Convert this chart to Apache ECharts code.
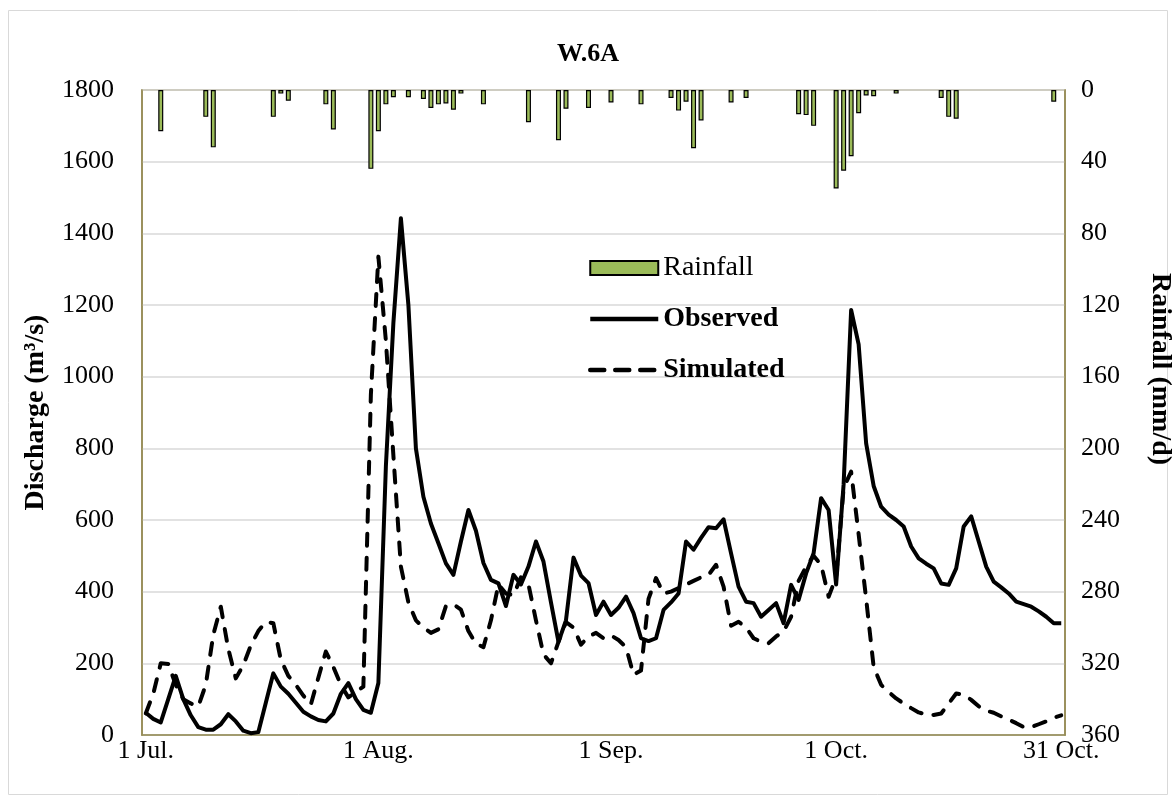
<!DOCTYPE html>
<html>
<head>
<meta charset="utf-8">
<title>W.6A</title>
<script src="https://cdn.jsdelivr.net/npm/echarts@6/dist/echarts.min.js"></script>
<style>
  html, body { margin: 0; padding: 0; background: #fff; }
  #chart { width: 1176px; height: 804px; }
</style>
</head>
<body>
<div id="chart"></div>
<script>
// x axis: daily, 1 Jul. to 31 Oct.
const months = [['Jul.', 31], ['Aug.', 31], ['Sep.', 30], ['Oct.', 31]];
const tickLabels = ['1 Jul.', '1 Aug.', '1 Sep.', '1 Oct.', '31 Oct.'];

// discharge (m3/s), one value per day
const observed = [
  62, 45, 35, 100, 165, 100, 55, 22, 15, 15,
  30, 58, 38, 12, 5, 8, 90, 172, 135, 115,
  90, 65, 52, 42, 38, 60, 115, 145, 100, 70,
  62, 145, 750, 1150, 1442, 1200, 800, 665, 590, 535,
  479, 447, 540, 628, 570, 480, 433, 423, 360, 447,
  420, 470, 540, 484, 370, 260, 320, 495, 445, 424,
  335, 372, 335, 355, 386, 340, 270, 262, 270, 349,
  370, 395, 540, 517, 550, 580, 577, 602, 507, 414,
  372, 368, 330, 349, 368, 312, 419, 377, 451, 507,
  661, 628, 420, 700, 1186, 1090, 814, 695, 637, 615,
  600, 582, 526, 493, 478, 465, 423, 419, 465, 582,
  610, 540, 470, 428, 412, 395, 372, 365, 358, 345,
  330, 312, 312
];

const simulated = [
  60, 115, 200, 198, 140, 100, 88, 80, 140, 280,
  358, 240, 158, 195, 250, 290, 316, 312, 210, 165,
  140, 110, 85, 160, 233, 190, 140, 105, 120, 135,
  950, 1335, 1100, 780, 470, 370, 320, 300, 285, 295,
  360, 365, 350, 290, 255, 245, 320, 420, 395, 390,
  440, 420, 320, 225, 200, 260, 315, 300, 252, 275,
  285, 270, 278, 265, 245, 168, 180, 380, 438, 395,
  400, 410, 420, 430, 440, 447, 475, 414, 305, 316,
  300, 270, 260, 256, 275, 289, 330, 430, 470, 500,
  475, 386, 440, 690, 735, 560, 380, 190, 140, 120,
  102, 88, 75, 63, 57, 56, 60, 88, 116, 112,
  98, 80, 68, 62, 52, 43, 33, 22, 22, 30,
  38, 48, 55
];

// rainfall (mm/d)
const rainfall = [
  0, 0, 23, 0, 0, 0, 0, 0, 15, 32,
  0, 0, 0, 0, 0, 0, 0, 15, 2, 6,
  0, 0, 0, 0, 8, 22, 0, 0, 0, 0,
  44, 23, 8, 4, 0, 4, 0, 5, 10, 8,
  7.5, 11, 2, 0, 0, 8, 0, 0, 0, 0,
  0, 18, 0, 0, 0, 28, 10.5, 0, 0, 10,
  0, 0, 7, 0, 0, 0, 8, 0, 0, 0,
  4.5, 11.5, 6.5, 32.5, 17, 0, 0, 0, 7, 0,
  4.5, 0, 0, 0, 0, 0, 0, 13.5, 14, 20,
  0, 0, 55, 45, 37, 13, 3, 3.5, 0, 0,
  2, 0, 0, 0, 0, 0, 4.5, 15, 16, 0,
  0, 0, 0, 0, 0, 0, 0, 0, 0, 0,
  0, 6.5, 0
];

const days = [];
months.forEach(function (m) {
  for (let d = 1; d <= m[1]; d++) days.push(d + ' ' + m[0]);
});

const FONT = '"Liberation Serif", "Times New Roman", serif';
const OLIVE = '#948A54';
const DASH = [12, 12];

const chart = echarts.init(document.getElementById('chart'));

const option = {
  animation: false,
  textStyle: { fontFamily: FONT, color: '#000' },
  title: {
    text: 'W.6A',
    left: 'center',
    top: 36,
    textStyle: { fontFamily: FONT, fontSize: 26, fontWeight: 'bold', color: '#000' }
  },
  legend: {
    orient: 'vertical',
    left: 583,
    top: 249,
    itemWidth: 68,
    itemHeight: 14,
    itemGap: 23,
    textStyle: { fontFamily: FONT, fontSize: 28, color: '#000' },
    data: [
      { name: 'Rainfall', icon: 'rect', textStyle: { fontWeight: 'normal' } },
      {
        name: 'Observed',
        itemStyle: { opacity: 0 },
        lineStyle: { width: 4.5, color: '#000', type: 'solid' },
        textStyle: { fontWeight: 'bold' }
      },
      {
        name: 'Simulated',
        itemStyle: { opacity: 0 },
        lineStyle: { width: 4.5, color: '#000', type: [14, 11], cap: 'round' },
        textStyle: { fontWeight: 'bold' }
      }
    ]
  },
  grid: {
    left: 142,
    right: 111,
    top: 90,
    bottom: 69,
    show: true,
    borderColor: OLIVE,
    borderWidth: 1.5
  },
  xAxis: {
    type: 'category',
    data: days,
    boundaryGap: true,
    axisLine: { lineStyle: { color: OLIVE, width: 1.5 } },
    axisTick: { show: false },
    axisLabel: {
      interval: function (i, v) { return tickLabels.indexOf(v) >= 0; },
      margin: 3,
      fontFamily: FONT,
      fontSize: 26,
      color: '#000'
    }
  },
  yAxis: [
    {
      type: 'value',
      min: 0,
      max: 1800,
      interval: 200,
      name: 'Discharge (m³/s)',
      nameLocation: 'middle',
      nameGap: 92,
      nameTextStyle: { fontFamily: FONT, fontSize: 28, fontWeight: 'bold', color: '#000' },
      axisLine: { show: true, lineStyle: { color: OLIVE, width: 1.5 } },
      axisTick: { show: false },
      axisLabel: {
        margin: 28,
        fontFamily: FONT,
        fontSize: 26,
        color: '#000',
        formatter: function (v) { return String(v); }
      },
      splitLine: { lineStyle: { color: '#D9D9D9', width: 1.5 } }
    },
    {
      type: 'value',
      inverse: true,
      min: 0,
      max: 360,
      interval: 40,
      position: 'right',
      axisLine: { show: true, lineStyle: { color: OLIVE, width: 1.5 } },
      axisTick: { show: false },
      axisLabel: { margin: 16, fontFamily: FONT, fontSize: 26, color: '#000' },
      splitLine: { show: false }
    }
  ],
  graphic: [
    {
      type: 'rect',
      shape: { x: 8.5, y: 10.5, width: 1159, height: 784 },
      style: { fill: 'none', stroke: '#D9D9D9', lineWidth: 1 },
      silent: true
    },
    {
      type: 'text',
      x: 1160,
      y: 369,
      rotation: -Math.PI / 2,
      style: {
        text: 'Rainfall (mm/d)',
        align: 'center',
        verticalAlign: 'middle',
        font: 'bold 28px ' + FONT,
        fill: '#000'
      }
    }
  ],
  series: [
    {
      name: 'Rainfall',
      type: 'bar',
      yAxisIndex: 1,
      barWidth: 5,
      data: rainfall.map(function (v) { return v > 0 ? v : null; }),
      itemStyle: { color: '#9BBB59', borderColor: '#000', borderWidth: 1.2 }
    },
    {
      name: 'Observed',
      type: 'line',
      yAxisIndex: 0,
      symbol: 'none',
      data: observed,
      lineStyle: { color: '#000', width: 4, join: 'round' },
      itemStyle: { color: '#000' },
      z: 4
    },
    {
      name: 'Simulated',
      type: 'line',
      yAxisIndex: 0,
      symbol: 'none',
      data: simulated,
      lineStyle: { color: '#000', width: 4, type: DASH, cap: 'round', join: 'round' },
      itemStyle: { color: '#000' },
      z: 3
    }
  ]
};

chart.setOption(option);
</script>
</body>
</html>
